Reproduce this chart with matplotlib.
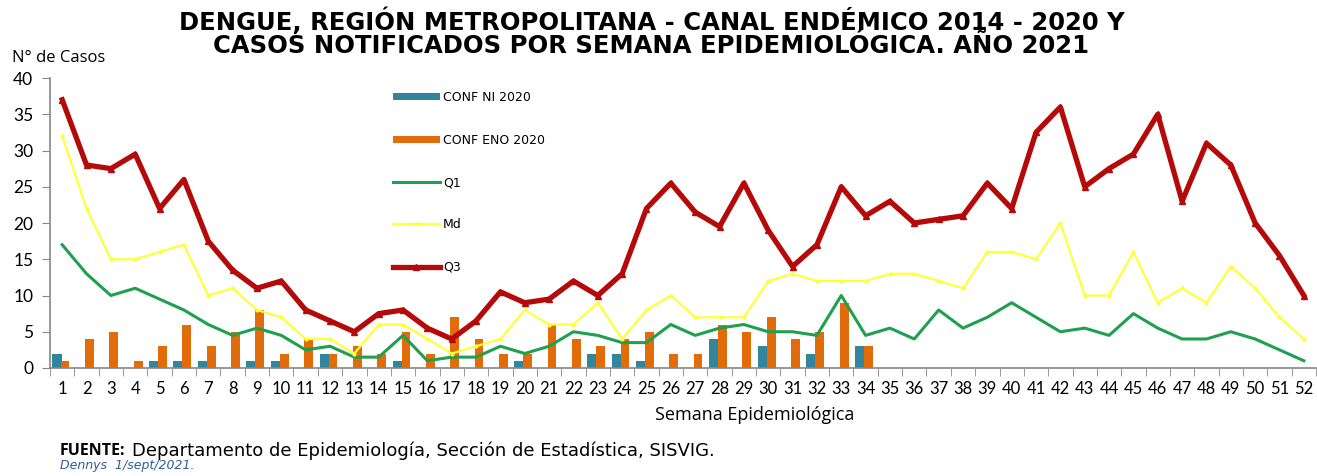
import matplotlib
matplotlib.use("Agg")
import matplotlib.pyplot as plt
import numpy as np

# --- data ---
weeks = list(range(1, 53))

q3 = [37, 28, 27.5, 29.5, 22, 26, 17.5, 13.5, 11, 12, 8, 6.5, 5, 7.5, 8, 5.5, 4, 6.5,
      10.5, 9, 9.5, 12, 10, 13, 22, 25.5, 21.5, 19.5, 25.5, 19, 14, 17, 25, 21, 23, 20,
      20.5, 21, 25.5, 22, 32.5, 36, 25, 27.5, 29.5, 35, 23, 31, 28, 20, 15.5, 10]
md = [32, 22, 15, 15, 16, 17, 10, 11, 8, 7, 4, 4, 2, 6, 6, 4, 2, 3, 4, 8, 6, 6, 9, 4,
      8, 10, 7, 7, 7, 12, 13, 12, 12, 12, 13, 13, 12, 11, 16, 16, 15, 20, 10, 10, 16, 9,
      11, 9, 14, 11, 7, 4]
q1 = [17, 13, 10, 11, 9.5, 8, 6, 4.5, 5.5, 4.5, 2.5, 3, 1.5, 1.5, 4.5, 1, 1.5, 1.5, 3,
      2, 3, 5, 4.5, 3.5, 3.5, 6, 4.5, 5.5, 6, 5, 5, 4.5, 10, 4.5, 5.5, 4, 8, 5.5, 7, 9,
      7, 5, 5.5, 4.5, 7.5, 5.5, 4, 4, 5, 4, 2.5, 1]

bar_weeks = list(range(1, 35))
conf_ni = [2, 0, 0, 0, 1, 1, 1, 0, 1, 1, 0, 2, 0, 0, 1, 0, 0, 0, 0, 1, 0, 0, 2, 2, 1,
           0, 0, 4, 0, 3, 0, 2, 0, 3]
conf_eno = [1, 4, 5, 1, 3, 6, 3, 5, 8, 2, 4, 2, 3, 2, 5, 2, 7, 4, 2, 2, 6, 4, 3, 4, 5,
            2, 2, 6, 5, 7, 4, 5, 9, 3]

# --- styling ---
BLUE = '#31859C'
ORANGE = '#E36C0A'
GREEN = '#1FA050'
YELLOW = '#FFFF3A'
DARKRED = '#B40A0A'
AXIS_GRAY = '#888888'
W, H = 1317, 476

fig = plt.figure(figsize=(13.17, 4.76), dpi=100)
ax = fig.add_axes([50 / W, 1 - 368 / H, 1266 / W, 290 / H])

bw = np.array(bar_weeks)
b1 = ax.bar(bw - 0.22, conf_ni, width=0.42, color=BLUE, label='CONF NI 2020', zorder=2)
b2 = ax.bar(bw + 0.12, conf_eno, width=0.36, color=ORANGE, label='CONF ENO 2020', zorder=3)
l1, = ax.plot(weeks, q1, color=GREEN, lw=2.2, label='Q1', zorder=4)
l2, = ax.plot(weeks, md, color=YELLOW, lw=1.6, marker='o', ms=2, label='Md', zorder=5)
l3, = ax.plot(weeks, q3, color=DARKRED, lw=3.8, marker='^', ms=5, label='Q3', zorder=6)

ax.set_xlim(0.5, 52.5)
ax.set_ylim(0, 40)
ax.set_yticks(range(0, 41, 5))
ax.set_xticks(weeks)
ax.set_xticks(np.arange(0.5, 53, 1), minor=True)
ax.tick_params(axis='x', which='major', length=0, pad=9, labelsize=12)
ax.tick_params(axis='x', which='minor', length=6, direction='out', color=AXIS_GRAY)
ax.tick_params(axis='y', length=6, color=AXIS_GRAY, labelsize=12.5, pad=6)
for lab in ax.get_xticklabels() + ax.get_yticklabels():
    lab.set_family('Lato')

for s in ['top', 'right']:
    ax.spines[s].set_visible(False)
for s in ['left', 'bottom']:
    ax.spines[s].set_color(AXIS_GRAY)
    ax.spines[s].set_linewidth(1.2)

fig.text(755 / W, 1 - 415 / H, 'Semana Epidemiológica', family='Open Sans',
         fontsize=13, ha='center', va='center')
fig.text(12 / W, 1 - 58 / H, 'N° de Casos', family='Open Sans', fontsize=12,
         va='center', ha='left')

# title, two centred lines
fig.text(652 / W, 1 - 21 / H, 'DENGUE, REGIÓN METROPOLITANA - CANAL ENDÉMICO 2014 - 2020 Y',
         family='DejaVu Sans', fontweight='bold', fontsize=17.5, ha='center', va='center')
fig.text(651 / W, 1 - 46 / H, 'CASOS NOTIFICADOS POR SEMANA EPIDEMIOLÓGICA. AÑO 2021',
         family='DejaVu Sans', fontweight='bold', fontsize=17.5, ha='center', va='center')

ax.legend([b1, b2, l1, l2, l3], ['CONF NI 2020', 'CONF ENO 2020', 'Q1', 'Md', 'Q3'],
          loc='upper left', bbox_to_anchor=(387 / W, 1 - 85 / H),
          bbox_transform=fig.transFigure, frameon=False, borderpad=0,
          handlelength=3.7, handleheight=0.5, labelspacing=2.35, handletextpad=0.3,
          prop={'family': 'DejaVu Sans', 'size': 9})

# footer
fig.text(60 / W, 1 - 451 / H, 'FUENTE:', family='Open Sans', fontweight='bold',
         fontsize=11.5, va='center', ha='left')
fig.text(132 / W, 1 - 451 / H, 'Departamento de Epidemiología, Sección de Estadística, SISVIG.',
         family='DejaVu Sans', fontsize=13, va='center', ha='left')
fig.text(60 / W, 1 - 465 / H, 'Dennys  1/sept/2021.', family='DejaVu Sans',
         style='italic', fontsize=9, color='#2E5C9A', va='center', ha='left')

fig.savefig('out.png', dpi=100)
